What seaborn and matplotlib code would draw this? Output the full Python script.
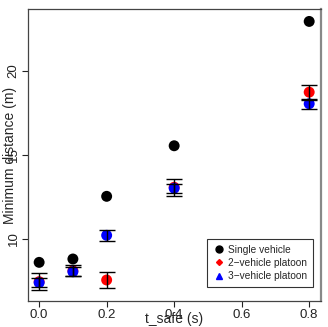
import matplotlib
matplotlib.use("Agg")
import matplotlib.pyplot as plt
from matplotlib.lines import Line2D
import seaborn as sns
import pandas as pd

t_safe = [0.0, 0.1, 0.2, 0.4, 0.8]
single = [8.61, 8.81, 12.54, 15.55, 22.95]
platoon2 = [7.46, 8.11, 7.56, 13.08, 18.74]
platoon2_err = [0.50, 0.32, 0.50, 0.50, 0.45]
platoon3 = [7.40, 8.05, 10.22, 13.02, 18.05]
platoon3_err = [0.28, 0.28, 0.31, 0.28, 0.30]

series_names = ["Single vehicle", "2\u2212vehicle platoon", "3\u2212vehicle platoon"]
colors = ["black", "red", "blue"]

df = pd.DataFrame({
    "t": t_safe * 3,
    "d": single + platoon2 + platoon3,
    "series": [series_names[0]] * 5 + [series_names[1]] * 5 + [series_names[2]] * 5,
})

sns.set_style("white")
plt.rcParams['font.family'] = ['Liberation Sans', 'DejaVu Sans']

fig = plt.figure(figsize=(3.28, 3.27), dpi=100)
ax = fig.add_axes([28 / 328, 1 - 301 / 327, 293 / 328, 292 / 327])

sns.scatterplot(data=df, x="t", y="d", hue="series", palette=colors,
                hue_order=series_names, s=62, edgecolor="none", legend=False,
                ax=ax, zorder=3)

ax.errorbar(t_safe, platoon2, yerr=platoon2_err, fmt="none", ecolor="black",
            elinewidth=1.0, capsize=6, capthick=1.0, zorder=4)
ax.errorbar(t_safe, platoon3, yerr=platoon3_err, fmt="none", ecolor="black",
            elinewidth=1.0, capsize=6, capthick=1.0, zorder=4)

ax.set_xlim(-0.033, 0.835)
ax.set_ylim(6.31, 23.69)
ax.set_xticks([0.0, 0.2, 0.4, 0.6, 0.8])
ax.set_xticklabels(["0.0", "0.2", "0.4", "0.6", "0.8"])
ax.set_yticks([10, 15, 20])
ax.set_yticklabels(["10", "15", "20"], rotation=90, va="center")
ax.tick_params(axis="both", direction="out", length=4, width=0.8,
               labelsize=9.5, colors="#222222", pad=2,
               bottom=True, left=True)
for side in ["left", "bottom", "right", "top"]:
    ax.spines[side].set_visible(True)
    ax.spines[side].set_color("#444444")
    ax.spines[side].set_linewidth(0.9)
ax.spines["right"].set_color("#888888")
ax.spines["right"].set_linewidth(1.6)

ax.set_xlabel("t_safe (s)", fontsize=10, va="center")
ax.xaxis.set_label_coords(0.5, -0.061)
ax.set_ylabel("Minimum distance (m)", fontsize=10, va="center")
ax.yaxis.set_label_coords(-0.063, 0.5)

handles = [
    Line2D([], [], marker="o", color="black", linestyle="none", markersize=5),
    Line2D([], [], marker="D", color="red", linestyle="none", markersize=3),
    Line2D([], [], marker="^", color="blue", linestyle="none", markersize=4.5),
]
leg = ax.legend(handles, series_names, loc="lower right", fontsize=7.3,
                frameon=True, fancybox=False, edgecolor="black",
                borderpad=0.6, handletextpad=0.3, labelspacing=0.3,
                handlelength=1.2, bbox_to_anchor=(0.99, 0.03))
leg.get_frame().set_linewidth(0.8)

fig.savefig("out.png", dpi=100)
